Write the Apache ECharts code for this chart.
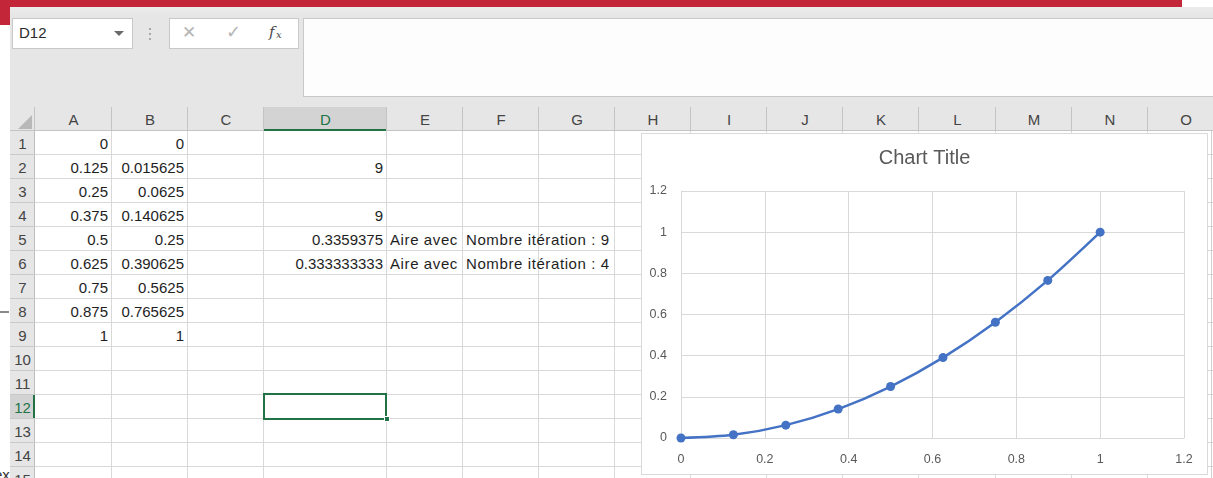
<!DOCTYPE html>
<html><head><meta charset="utf-8">
<script src="https://cdn.jsdelivr.net/npm/echarts@6/dist/echarts.min.js"></script>
<style>
html,body{margin:0;padding:0;width:1213px;height:478px;overflow:hidden;background:#fff;font-family:"Liberation Sans",Arial,sans-serif;}
.a{position:absolute;box-sizing:border-box;}
.t{position:absolute;white-space:nowrap;font-size:15px;line-height:24px;color:#1e1e1e;}
</style></head><body>
<div id="root" class="a" style="left:0;top:0;width:1213px;height:478px;"></div>
<script>
// ---------- data ----------
const xValues = [0, 0.125, 0.25, 0.375, 0.5, 0.625, 0.75, 0.875, 1];
const yValues = [0, 0.015625, 0.0625, 0.140625, 0.25, 0.390625, 0.5625, 0.765625, 1];
const chartTitle = "Chart Title";
const columnLetters = ["A","B","C","D","E","F","G","H","I","J","K","L","M","N","O"];
const rowNumbers = [1,2,3,4,5,6,7,8,9,10,11,12,13,14,15];
const colDValues = [["D",2,9],["D",4,9],["D",5,0.3359375],["D",6,0.333333333]];
const textCells = [["E",5,"Aire avec"],["E",6,"Aire avec"],["F",5,"Nombre itération : 9"],["F",6,"Nombre itération : 4"]];
const nameBoxText = "D12";

// ---------- layout ----------
const colEdges = [35,112,188,264,387,463,539,615,691,767,843,919,996,1072,1148,1224];
const rowTop0 = 131, rowH = 24;
const root = document.getElementById('root');
function box(style, text, cls){
  const d = document.createElement('div');
  d.className = cls || 'a';
  d.setAttribute('style', style);
  if (text !== undefined) d.textContent = text;
  root.appendChild(d);
  return d;
}
// top red bar and window frame
box('left:0;top:0;width:1182px;height:7px;background:#c32638;');
box('left:0;top:0;width:10px;height:25px;background:#c32638;');
box('left:10px;top:7px;width:1203px;height:100px;background:linear-gradient(#ececec,#e6e6e6 8px,#e6e6e6);');
// left strip remnants
box('left:0;top:311px;width:9px;height:2px;background:#8a8a8a;');
box('left:-6px;top:463px;font-size:15px;line-height:24px;color:#333;overflow:hidden;width:16px;', 'ex', 't');
// name box
box('left:12px;top:18px;width:121px;height:31px;background:#fff;border:1px solid #c9c9c9;');
box('left:19px;top:21px;font-size:15px;color:#2a2a2a;', nameBoxText, 't');
box('left:114px;top:31px;width:0;height:0;border-left:5px solid transparent;border-right:5px solid transparent;border-top:5px solid #6a6a6a;');
// separator dots
for (let i=0;i<3;i++) box('left:149px;top:'+(28+i*5)+'px;width:2px;height:2px;background:#a8a8a8;');
// function buttons box
box('left:169px;top:18px;width:130px;height:31px;background:#fff;border:1px solid #c9c9c9;');
box('left:182px;top:20px;font-family:\'DejaVu Sans\';font-size:17px;color:#b5b5b5;', '✕', 't');
box('left:226px;top:20px;font-family:\'DejaVu Sans\';font-size:18px;color:#b5b5b5;', '✓', 't');
box('left:269px;top:20px;font-family:\'DejaVu Serif\';font-style:italic;font-size:15px;color:#4a4a4a;', 'f', 't');
box('left:276px;top:23px;font-family:\'DejaVu Serif\';font-style:italic;font-size:10px;color:#4a4a4a;', 'x', 't');
// formula bar
box('left:303px;top:18px;width:915px;height:79px;background:#fdfdfd;border:1px solid #c9c9c9;');
// column header row
box('left:10px;top:107px;width:1203px;height:24px;background:#e6e6e6;border-bottom:1px solid #c4c4c4;');
box('left:18px;top:115px;width:0;height:0;border-left:14px solid transparent;border-bottom:14px solid #b8b8b8;');
// sheet body
box('left:35px;top:131px;width:1178px;height:347px;background:#fff;');
// row header column
box('left:10px;top:131px;width:25px;height:347px;background:#e6e6e6;border-right:1px solid #bdbdbd;');
// selected column header D and row 12
const dIdx = columnLetters.indexOf('D');
box('left:'+colEdges[dIdx]+'px;top:107px;width:'+(colEdges[dIdx+1]-colEdges[dIdx])+'px;height:24px;background:#d3d3d3;border-bottom:2px solid #217346;');
box('left:10px;top:'+(rowTop0+11*rowH)+'px;width:25px;height:24px;background:#d3d3d3;border-right:2px solid #217346;');
// column header separators and letters
for (let i=0;i<columnLetters.length;i++){
  const l = colEdges[i], r = colEdges[i+1];
  box('left:'+(l-1)+'px;top:107px;width:1px;height:24px;background:#c4c4c4;');
  box('left:'+l+'px;top:108px;width:'+(r-l)+'px;text-align:center;color:'+(i===dIdx?'#217346':'#444')+';', columnLetters[i], 't');
}
// gridlines
for (let i=1;i<colEdges.length;i++){
  box('left:'+(colEdges[i]-1)+'px;top:131px;width:1px;height:347px;background:#d9d9d9;');
}
for (let n=0;n<rowNumbers.length;n++){
  const y = rowTop0 + (n+1)*rowH - 1;
  box('left:35px;top:'+y+'px;width:1178px;height:1px;background:#d9d9d9;');
  box('left:10px;top:'+y+'px;width:25px;height:1px;background:#c8c8c8;');
  box('left:10px;top:'+(rowTop0+n*rowH+1)+'px;width:25px;text-align:center;color:'+(n===11?'#217346':'#444')+';', String(rowNumbers[n]), 't');
}
// cells
function colIndex(c){return columnLetters.indexOf(c);}
function numCell(c,row,v){
  const i = colIndex(c), l = colEdges[i], r = colEdges[i+1];
  box('left:'+l+'px;top:'+(rowTop0+(row-1)*rowH+1)+'px;width:'+(r-l-4)+'px;text-align:right;', String(v), 't');
}
xValues.forEach((v,k)=>numCell('A',k+1,v));
yValues.forEach((v,k)=>numCell('B',k+1,v));
colDValues.forEach(c=>numCell(c[0],c[1],c[2]));
textCells.forEach(c=>{
  const i = colIndex(c[0]), l = colEdges[i], r = colEdges[i+1];
  const clip = c[0]==='E' ? 'overflow:hidden;width:'+(r-l-4)+'px;' : '';
  box('left:'+(l+3)+'px;top:'+(rowTop0+(c[1]-1)*rowH+1)+'px;letter-spacing:0.6px;'+clip, c[2], 't');
});
// selected cell D12
const selTop = rowTop0 + 11*rowH - 2;
box('left:'+(colEdges[dIdx]-1)+'px;top:'+selTop+'px;width:'+(colEdges[dIdx+1]-colEdges[dIdx]+1)+'px;height:27px;border:2px solid #217346;');
box('left:'+(colEdges[dIdx+1]-3)+'px;top:'+(selTop+23)+'px;width:6px;height:6px;background:#217346;border:1px solid #fff;');
// right edge line
box('left:1211px;top:131px;width:1px;height:347px;background:#d0d0d0;');
// chart frame
const frame = box('left:641px;top:133px;width:567px;height:342px;background:#fff;border:1px solid #d9d9d9;');
const cdiv = document.createElement('div');
cdiv.setAttribute('style','position:absolute;left:0;top:0;width:565px;height:340px;');
frame.appendChild(cdiv);

const chart = echarts.init(cdiv, null, {renderer:'canvas'});
const axisFont = {color:'#595959', fontSize:12.5, fontFamily:'Liberation Sans'};
chart.setOption({
  animation:false,
  title:{text:chartTitle, left:'center', top:14, padding:0,
    textStyle:{fontFamily:'Liberation Sans', fontSize:20, fontWeight:'normal', color:'#595959'}},
  grid:{left:39, top:57, width:503, height:247, containLabel:false, outerBoundsMode:'none'},
  xAxis:{type:'value', min:0, max:1.2, interval:0.2,
    axisLine:{show:true, lineStyle:{color:'#d9d9d9', width:1}},
    axisTick:{show:false},
    splitLine:{show:true, lineStyle:{color:'#d9d9d9', width:1}},
    axisLabel:Object.assign({margin:15}, axisFont)},
  yAxis:{type:'value', min:0, max:1.2, interval:0.2,
    axisLine:{show:true, lineStyle:{color:'#d9d9d9', width:1}},
    axisTick:{show:false},
    splitLine:{show:true, lineStyle:{color:'#d9d9d9', width:1}},
    axisLabel:Object.assign({margin:14}, axisFont)},
  series:[{type:'line', data:xValues.map((x,i)=>[x, yValues[i]]), smooth:0.3,
    symbol:'circle', symbolSize:9, showSymbol:true,
    lineStyle:{color:'#4472C4', width:2.5}, itemStyle:{color:'#4472C4'}}]
});
</script>
</body></html>
